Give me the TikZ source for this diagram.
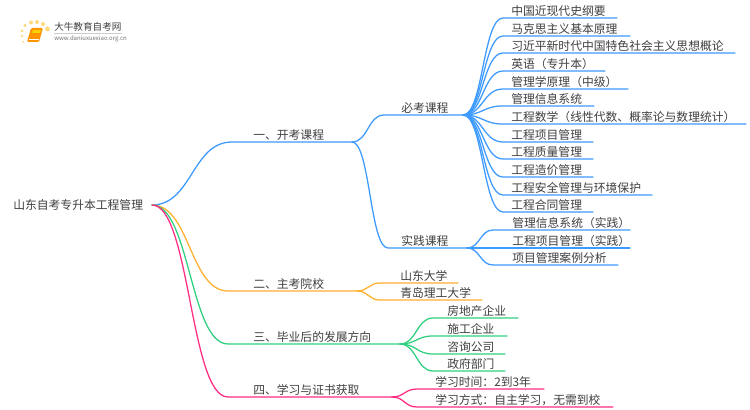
\documentclass[tikz,border=0pt]{standalone}
\usepackage{fontspec}
\setmainfont{Noto Sans CJK SC}
\usetikzlibrary{calc}
\definecolor{cblue}{HTML}{3D9BFF}
\definecolor{corange}{HTML}{FFB02E}
\definecolor{cgreen}{HTML}{2FD07F}
\definecolor{cpink}{HTML}{FF2E84}
\definecolor{ctext}{HTML}{404040}
\definecolor{dotc}{HTML}{FFD97A}
\tikzset{
  lbl/.style={anchor=west,inner sep=0pt,text=ctext,font=\fontsize{8.85pt}{10pt}\selectfont},
  brline/.style={line width=0.95pt,line cap=round},
  logodot/.style={fill=dotc,draw=none}
}
% \lf{name}{x0}{x1}{y}{textx}{text}{colour}{parent}
\newcommand{\lf}[8]{%
  \coordinate (#1s) at (#2,#4);
  \coordinate (#1e) at (#3,#4);
  \node[lbl] (#1) at (#5,#4-7) {#6};
  \draw[brline,#7] (#8) .. controls ($(#8)!0.5!(#8 -| #1s)$) and ($(#1s)!0.5!(#8 |- #1s)$) .. (#1s) -- (#1e);
}
\begin{document}
\begin{tikzpicture}[x=0.75pt,y=-0.75pt]
\useasboundingbox (0,0) rectangle (750,410);
\fill[white] (0,0) rectangle (750,410);
% logo
\foreach \px/\py/\pr in {23/42/1, 22/36/1.3, 22/31/1.5, 25/25.5/1.7, 31/22.5/2, 37/22/2, 43/24/2, 47.5/29/2.4}
  \fill[logodot] (\px,\py) circle (\pr);
\fill[orange!85!yellow,rounded corners=1pt] (31,28) -- (43,28) -- (39,42) -- (27,42) -- cycle;
\fill[yellow!70!orange] (33,30) -- (41,30) -- (40,33) -- (32,33) -- cycle;
\draw[white,line width=0.5pt] (28.5,39.5) -- (39,39.5);
\node[inner sep=0pt,anchor=west,text=black!75,font=\fontsize{7.2pt}{8pt}\selectfont] (lt) at (54,27) {大牛教育自考网};
\draw[black!20,line width=0.5pt] (54,33) -- (122,33);
\node[inner sep=0pt,anchor=west,text=black!55,font=\fontsize{4.5pt}{5pt}\selectfont] (lu) at (54,38.5) {www.daniuxuexiao.org.cn};
% map
\node[lbl] (root) at (13,205) {山东自考专升本工程管理};
\coordinate (r) at (152,205);
\lf{a}{232}{352}{142}{253}{一、开考课程}{cblue}{r}
\lf{b}{228}{357}{291}{253}{二、主考院校}{corange}{r}
\lf{c}{228}{400}{344}{253}{三、毕业后的发展方向}{cgreen}{r}
\lf{d}{228}{392}{397}{253}{四、学习与证书获取}{cpink}{r}
\lf{a1}{384}{463}{115}{401}{必考课程}{cblue}{ae}
\lf{a2}{388}{467}{248}{401}{实践课程}{cblue}{ae}
\lf{p1}{503}{617}{18}{511}{中国近现代史纲要}{cblue}{a1e}
\lf{p2}{503}{630}{36}{511}{马克思主义基本原理}{cblue}{a1e}
\lf{p3}{503}{735}{53}{511}{习近平新时代中国特色社会主义思想概论}{cblue}{a1e}
\lf{p4}{503}{605}{71}{511}{英语（专升本）}{cblue}{a1e}
\lf{p5}{503}{628}{89}{511}{管理学原理（中级）}{cblue}{a1e}
\lf{p6}{503}{594}{106}{511}{管理信息系统}{cblue}{a1e}
\lf{p7}{503}{746}{124}{511}{工程数学（线性代数、概率论与数理统计）}{cblue}{a1e}
\lf{p8}{503}{593}{142}{511}{工程项目管理}{cblue}{a1e}
\lf{p9}{503}{593}{159}{511}{工程质量管理}{cblue}{a1e}
\lf{p10}{503}{593}{177}{511}{工程造价管理}{cblue}{a1e}
\lf{p11}{503}{652}{195}{511}{工程安全管理与环境保护}{cblue}{a1e}
\lf{p12}{503}{593}{212}{511}{工程合同管理}{cblue}{a1e}
\lf{q1}{493}{630}{230}{512}{管理信息系统（实践）}{cblue}{a2e}
\lf{q2}{493}{630}{248}{512}{工程项目管理（实践）}{cblue}{a2e}
\lf{q3}{493}{618}{265}{512}{项目管理案例分析}{cblue}{a2e}
\lf{b1}{380}{458}{283}{400}{山东大学}{corange}{be}
\lf{b2}{380}{482}{300}{400}{青岛理工大学}{corange}{be}
\lf{c1}{433}{518}{318}{447}{房地产企业}{cgreen}{ce}
\lf{c2}{433}{507}{336}{447}{施工企业}{cgreen}{ce}
\lf{c3}{433}{505}{354}{447}{咨询公司}{cgreen}{ce}
\lf{c4}{433}{505}{371}{447}{政府部门}{cgreen}{ce}
\lf{d1}{417}{544}{389}{435}{学习时间：2到3年}{cpink}{de}
\lf{d2}{417}{613}{407}{435}{学习方式：自主学习，无需到校}{cpink}{de}
\end{tikzpicture}
\end{document}
